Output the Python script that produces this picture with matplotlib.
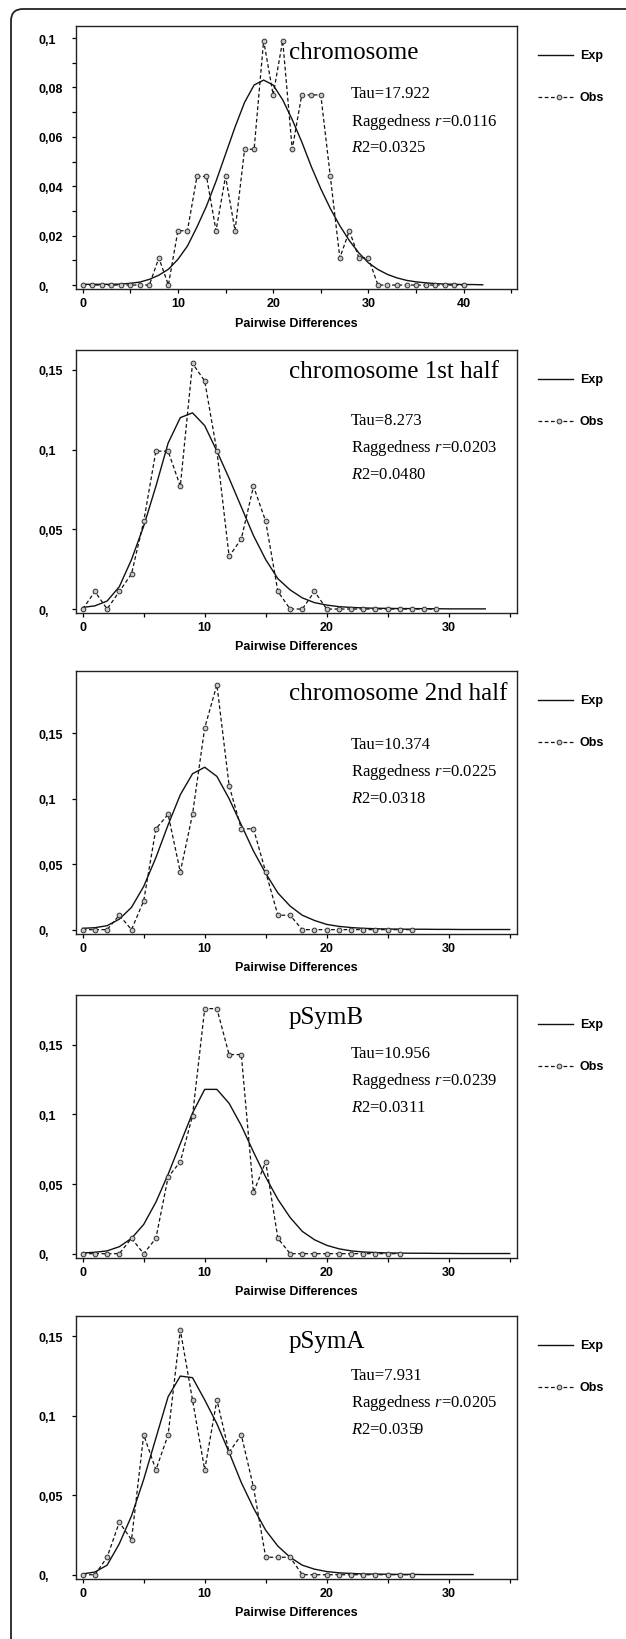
import numpy as np
import matplotlib
matplotlib.use('Agg')
import matplotlib.pyplot as plt
from matplotlib.lines import Line2D
from matplotlib.path import Path
from matplotlib.patches import PathPatch

plt.rcParams['font.family'] = ['Liberation Sans', 'DejaVu Sans']
plt.rcParams['mathtext.fontset'] = 'custom'
plt.rcParams['mathtext.rm'] = 'Liberation Serif'
plt.rcParams['mathtext.it'] = 'Liberation Serif:italic'

# panel texts
titles = ['chromosome', 'chromosome 1st half', 'chromosome 2nd half', 'pSymB', 'pSymA']
tau = ['17.922', '8.273', '10.374', '10.956', '7.931']
ragged = ['0.0116', '0.0203', '0.0225', '0.0239', '0.0205']
r2 = ['0.0325', '0.0480', '0.0318', '0.0311', '0.0359']

# observed mismatch distributions (x = 0, 1, 2, ...)
obs_chr = [0, 0, 0, 0, 0, 0, 0, 0, 0.011, 0, 0.022, 0.022, 0.044, 0.044, 0.022,
           0.044, 0.022, 0.055, 0.055, 0.099, 0.077, 0.099, 0.055, 0.077, 0.077,
           0.077, 0.044, 0.011, 0.022, 0.011, 0.011, 0, 0, 0, 0, 0, 0, 0, 0, 0, 0]
obs_chr1 = [0, 0.011, 0, 0.011, 0.022, 0.055, 0.099, 0.099, 0.077, 0.154, 0.143,
            0.099, 0.033, 0.044, 0.077, 0.055, 0.011, 0, 0, 0.011, 0, 0, 0, 0, 0,
            0, 0, 0, 0, 0]
obs_chr2 = [0, 0, 0, 0.011, 0, 0.022, 0.077, 0.088, 0.044, 0.088, 0.154, 0.187,
            0.11, 0.077, 0.077, 0.044, 0.011, 0.011, 0, 0, 0, 0, 0, 0, 0, 0, 0, 0]
obs_psymb = [0, 0, 0, 0, 0.011, 0, 0.011, 0.055, 0.066, 0.099, 0.176, 0.176,
             0.143, 0.143, 0.044, 0.066, 0.011, 0, 0, 0, 0, 0, 0, 0, 0, 0, 0]
obs_psyma = [0, 0, 0.011, 0.033, 0.022, 0.088, 0.066, 0.088, 0.154, 0.11, 0.066,
             0.11, 0.077, 0.088, 0.055, 0.011, 0.011, 0.011, 0, 0, 0, 0, 0, 0, 0,
             0, 0, 0]

# expected (sudden expansion) curves
exp_chr = [0.0003, 0.0003, 0.0003, 0.0003, 0.0004, 0.0007, 0.0012, 0.0023, 0.004,
           0.0064, 0.0104, 0.0158, 0.0235, 0.032, 0.042, 0.053, 0.064, 0.074,
           0.081, 0.083, 0.081, 0.075, 0.067, 0.058, 0.048, 0.039, 0.031, 0.024,
           0.018, 0.013, 0.009, 0.0063, 0.0043, 0.0029, 0.0019, 0.0013, 0.0009,
           0.0006, 0.0004, 0.0003, 0.0002, 0.0002, 0.0001]
exp_chr1 = [0.001, 0.002, 0.005, 0.014, 0.031, 0.052, 0.077, 0.104, 0.12, 0.123,
            0.115, 0.099, 0.082, 0.064, 0.046, 0.031, 0.019, 0.012, 0.007, 0.004,
            0.0025, 0.0015, 0.001, 0.0007, 0.0005, 0.0004, 0.0003, 0.0003, 0.0002,
            0.0002, 0.0001, 0.0001, 0.0001, 0.0001]
exp_chr2 = [0.001, 0.0015, 0.003, 0.008, 0.017, 0.033, 0.055, 0.08, 0.103, 0.119,
            0.124, 0.117, 0.1, 0.08, 0.06, 0.043, 0.028, 0.018, 0.011, 0.007,
            0.004, 0.0025, 0.0016, 0.001, 0.0007, 0.0005, 0.0004, 0.0003, 0.0003,
            0.0002, 0.0002, 0.0001, 0.0001, 0.0001, 0.0001, 0.0001]
exp_psymb = [0.0005, 0.001, 0.002, 0.005, 0.011, 0.021, 0.037, 0.057, 0.079,
             0.101, 0.118, 0.118, 0.108, 0.092, 0.073, 0.055, 0.039, 0.026, 0.016,
             0.01, 0.006, 0.0035, 0.002, 0.0012, 0.0008, 0.0005, 0.0004, 0.0003,
             0.0003, 0.0002, 0.0002, 0.0001, 0.0001, 0.0001, 0.0001, 0.0001]
exp_psyma = [0.0005, 0.0017, 0.006, 0.0195, 0.037, 0.06, 0.086, 0.112, 0.125,
             0.124, 0.11, 0.095, 0.077, 0.058, 0.042, 0.028, 0.018, 0.011, 0.006,
             0.0035, 0.002, 0.0012, 0.0008, 0.0005, 0.0004, 0.0003, 0.0002, 0.0002,
             0.0001, 0.0001, 0.0001, 0.0001, 0.0001]

obs_all = [obs_chr, obs_chr1, obs_chr2, obs_psymb, obs_psyma]
exp_all = [exp_chr, exp_chr1, exp_chr2, exp_psymb, exp_psyma]

# y ticks per panel
yticks_chr = [0, 0.01, 0.02, 0.03, 0.04, 0.05, 0.06, 0.07, 0.08, 0.09, 0.1]
ylabels_chr = ['0,', '', '0,02', '', '0,04', '', '0,06', '', '0,08', '', '0,1']
yticks_half = [0, 0.05, 0.1, 0.15]
ylabels_half = ['0,', '0,05', '0,1', '0,15']

# layout (pixels)
W, H = 626, 1640
ax_left, ax_w, ax_h = 76, 441, 263
ax_tops = [27, 350.7, 671.7, 995.7, 1316.7]
ylims = [(-0.0016, 0.1049), (-0.0023, 0.1626), (-0.0031, 0.1977),
         (-0.0029, 0.186), (-0.0025, 0.163)]
xlims = [(-0.7, 45.6), (-0.55, 35.6), (-0.55, 35.6), (-0.55, 35.6), (-0.55, 35.6)]
xmax_tick = [45, 35, 35, 35, 35]
title_base = [32.3, 27.6, 28.3, 28.6, 31.6]
stat_base = [71.5, 74, 77, 62, 63]

fig = plt.figure(figsize=(W / 100, H / 100), dpi=100)
fig.patch.set_facecolor('white')

def fx(x):
    return x / W

def fy(y):
    return 1 - y / H

bold = dict(fontweight='bold', fontsize=9, color='black')

for i in range(5):
    top = ax_tops[i]
    ax = fig.add_axes([fx(ax_left), fy(top + ax_h), ax_w / W, ax_h / H])
    y_obs = obs_all[i]
    y_exp = exp_all[i]
    ax.plot(np.arange(len(y_exp)), y_exp, color='#111111', lw=1.0)
    ax.plot(np.arange(len(y_obs)), y_obs, color='#111111', lw=0.9, ls=(0, (3, 2)),
            marker='o', ms=3.4, mfc='#c8c8c8', mec='#303030', mew=0.7)
    ax.set_xlim(*xlims[i])
    ax.set_ylim(*ylims[i])

    xt = np.arange(0, xmax_tick[i] + 1, 5)
    ax.set_xticks(xt)
    ax.set_xticklabels([str(v) if v % 10 == 0 else '' for v in xt], **bold)
    if i == 0:
        ax.set_yticks(yticks_chr)
        ax.set_yticklabels(ylabels_chr, **bold)
    else:
        ax.set_yticks(yticks_half)
        ax.set_yticklabels(ylabels_half, **bold)
    for lab in ax.get_yticklabels():
        lab.set_horizontalalignment('left')
    ax.tick_params(axis='y', direction='out', length=3.2, width=0.9, pad=23.5)
    ax.tick_params(axis='x', direction='out', length=3.2, width=0.9, pad=2.5)
    for sp in ax.spines.values():
        sp.set_linewidth(1.0)
        sp.set_color('#222222')

    ax.text(0.5, -36.7 / ax_h, 'Pairwise Differences', transform=ax.transAxes,
            ha='center', va='baseline', **bold)

    # title and statistics
    fig.text(fx(289), fy(top + title_base[i]), titles[i], family='Liberation Serif',
             fontsize=18, ha='left', va='baseline')
    lines = ['Tau=' + tau[i],
             r'Raggedness $\mathit{r}$=' + ragged[i],
             r'$\mathit{R2}$=' + r2[i]]
    for k, s in enumerate(lines):
        fig.text(fx(351), fy(top + stat_base[i] + 27 * k), s, family='Liberation Serif',
                 fontsize=12, ha='left', va='baseline')

    # legend drawn beside the axes
    fig.add_artist(Line2D([fx(538), fx(573)], [fy(top + 29), fy(top + 29)],
                          color='#111111', lw=1.0))
    fig.text(fx(580), fy(top + 29), 'Exp', ha='left', va='center', **bold)
    fig.add_artist(Line2D([fx(538), fx(575)], [fy(top + 71), fy(top + 71)],
                          color='#111111', lw=0.9, ls=(0, (3, 2))))
    fig.add_artist(Line2D([fx(559)], [fy(top + 71)], marker='o', ms=3.4,
                          mfc='#c8c8c8', mec='#303030', mew=0.7, ls='none'))
    fig.text(fx(580), fy(top + 71), 'Obs', ha='left', va='center', **bold)

# outer rounded frame (top-left corner only visible)
r = 12
verts = [(fx(11), fy(H + 5)), (fx(11), fy(10 + r)), (fx(11), fy(10)), (fx(11 + r), fy(10)),
         (fx(W + 5), fy(10))]
codes = [Path.MOVETO, Path.LINETO, Path.CURVE3, Path.CURVE3, Path.LINETO]
fig.add_artist(PathPatch(Path(verts, codes), transform=fig.transFigure,
                         fill=False, lw=1.3, edgecolor='#222222'))

fig.savefig('out.png', dpi=100)
